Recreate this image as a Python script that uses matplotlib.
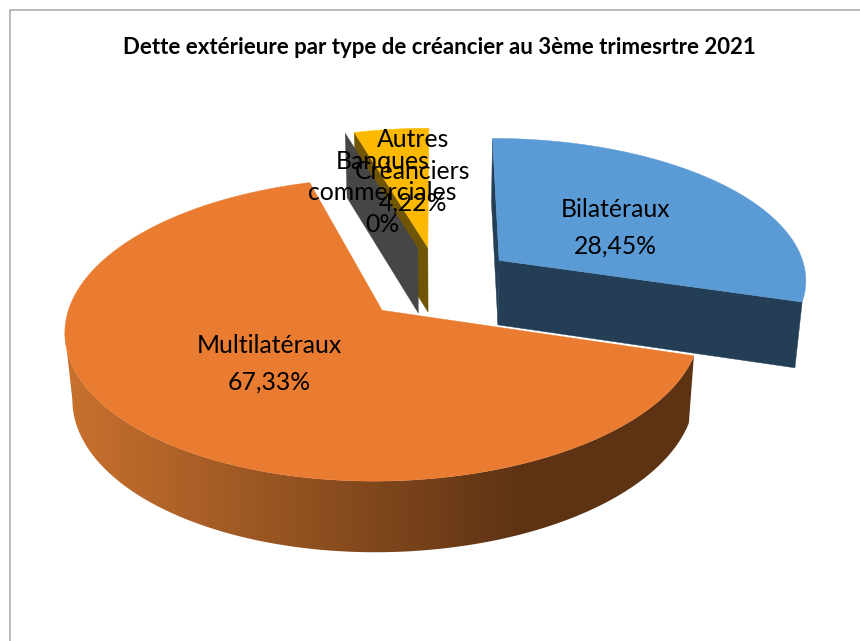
import numpy as np
import matplotlib
matplotlib.use("Agg")
import matplotlib.pyplot as plt
from matplotlib.colors import LinearSegmentedColormap
from matplotlib.patches import Polygon

title = "Dette extérieure par type de créancier au 3ème trimesrtre 2021"
categories = ["Bilatéraux", "Multilatéraux", "Banques\ncommerciales", "Autres\nCréanciers"]
value_labels = ["28,45%", "67,33%", "0%", "4,22%"]
values = [28.45, 67.33, 0.0, 4.22]
top_colors = ["#5B9BD5", "#E97C30", "#464646", "#FDB900"]
wall_colors = ["#243F55", "#5F3414", "#464646", "#6F5505"]

plt.rcParams["font.family"] = ["Lato", "DejaVu Sans"]

CX, CY = 438.0, 283.0      # centre of the pie on the canvas
R = 309.5                  # radius
EXPLODE = 80.0             # outward shift of every slice
TILT = 0.46                # vertical squash of the pie plane
PERSP = 0.0004             # perspective strength


def warp(theta_deg):
    """Small angular distortion of the 3D view."""
    t = np.radians(theta_deg)
    return theta_deg + 6.2 * np.sin(t) ** 2 + 3.0 * np.sin(2 * t)


def project(u, v):
    u = np.asarray(u, float)
    v = np.asarray(v, float)
    s = 1.0 / (1.0 + PERSP * v)
    # the left half of the view is very slightly narrower than the right
    return CX + u * s * np.where(u < 0, 0.99, 1.0), CY - TILT * v * s


def extrude(x, y):
    x = np.asarray(x, float)
    y = np.asarray(y, float)
    return 440 + (x - 440) * 0.98, y + 64.5 + np.maximum(0, y - 261) * 0.03


def rim(theta_deg, cu, cv):
    t = np.radians(warp(np.asarray(theta_deg, float)))
    return project(cu + R * np.sin(t), cv + R * np.cos(t))


# slice geometry from the values
total = sum(values)
starts = np.cumsum([0.0] + values[:-1]) / total * 360.0
sweeps = np.array(values) / total * 360.0
slices = []
for a, sw in zip(starts, sweeps):
    mid = np.radians(a + sw / 2)
    slices.append((a, a + sw, EXPLODE * np.sin(mid), EXPLODE * np.cos(mid)))

fig = plt.figure(figsize=(8.6, 6.41), dpi=100, facecolor="white")
ax = fig.add_axes([0, 0, 1, 1])
ax.axis("off")

# chart frame
ax.plot([10, 10, 861], [642, 10, 10], color="#B4B4B4", lw=1.3, zorder=0)


def radial_wall(i, theta, z):
    a, b, cu, cv = slices[i]
    ax_, ay_ = project(cu, cv)
    rx, ry = rim(theta, cu, cv)
    xs = np.array([ax_, rx])
    ys = np.array([ay_, ry])
    ex, ey = extrude(xs, ys)
    pts = np.column_stack([np.r_[xs, ex[::-1]], np.r_[ys, ey[::-1]]])
    ax.add_patch(Polygon(pts, closed=True, fc=wall_colors[i], ec=wall_colors[i], lw=0.3, zorder=z))


def top_face(i, z):
    a, b, cu, cv = slices[i]
    ax_, ay_ = project(cu, cv)
    th = np.linspace(a, b, 200)
    rx, ry = rim(th, cu, cv)
    pts = np.column_stack([np.r_[ax_, rx], np.r_[ay_, ry]])
    ax.add_patch(Polygon(pts, closed=True, fc=top_colors[i], ec=top_colors[i], lw=0.3, zorder=z))


# Autres créanciers
radial_wall(3, slices[3][0], 1)
# Banques commerciales: zero width, only its wall shows
radial_wall(2, slices[2][0], 2)
top_face(3, 3)

# Bilatéraux
radial_wall(0, slices[0][0], 4)
radial_wall(0, slices[0][1], 4)
top_face(0, 5)

# Multilatéraux: outer side with a horizontal shade, up to the silhouette point
shade = LinearSegmentedColormap.from_list("side", ["#C8712E", "#5E3314"])
a, b, cu, cv = slices[1]
th = np.linspace(a, b, 800)
rx, ry = rim(th, cu, cv)
stop = int(np.argmin(rx)) + 1
ex, ey = extrude(rx[:stop], ry[:stop])
side_pts = np.column_stack([np.r_[rx[:stop], ex[::-1]], np.r_[ry[:stop], ey[::-1]]])
side = Polygon(side_pts, closed=True, fc="none", ec="none", zorder=6)
ax.add_patch(side)
ramp = np.clip((np.linspace(0, 860, 861) - 70) / (520 - 70), 0, 1)[None, :]
img = ax.imshow(ramp, cmap=shade, vmin=0, vmax=1, extent=(0, 860, 641, 0), aspect="auto",
                interpolation="bilinear", zorder=6)
img.set_clip_path(side)
top_face(1, 7)

ax.set_xlim(0, 860)
ax.set_ylim(641, 0)

# title and labels
ax.text(439, 47, title, ha="center", va="center", fontsize=16, fontweight="bold", color="black", zorder=10)

label_pos = [(615.5, 228), (269.5, 364), (382.5, 193), (413, 171.5)]
label_gap = [1.69, 1.69, 1.46, 1.46]
for cat, val, (x, y), gap in zip(categories, value_labels, label_pos, label_gap):
    ax.text(x, y, f"{cat}\n{val}", ha="center", va="center", fontsize=17.8, color="black",
            linespacing=gap, zorder=10)

fig.savefig("out.png", dpi=100, facecolor="white")
